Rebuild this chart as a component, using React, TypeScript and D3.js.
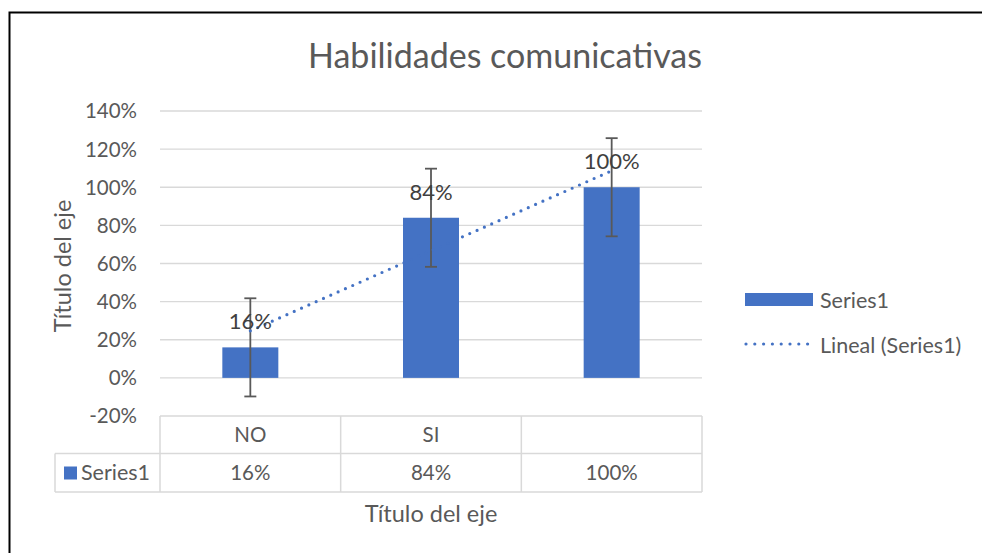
import React, { useEffect, useRef } from "react";
import * as d3 from "d3";

const title = "Habilidades comunicativas";
const categories = ["NO", "SI", ""];
const values = [0.16, 0.84, 1.0];
const seriesName = "Series1";
const trendName = "Lineal (Series1)";
const yTicks = [-0.2, 0, 0.2, 0.4, 0.6, 0.8, 1.0, 1.2, 1.4];
const axisTitle = "Título del eje";

const BLUE = "#4472C4";
const TEXT = "#595959";
const GRID = "#d9d9d9";
const FONT = "Lato, 'Noto Sans', sans-serif";

export default function App() {
    const ref = useRef<SVGSVGElement>(null);

    useEffect(() => {
        if (!ref.current) return;
        const svg = d3.select(ref.current);
        svg.selectAll("*").remove();

        const left = 160, right = 702, top = 111, bottom = 416;

        const x = d3.scaleBand<number>()
            .domain(categories.map((_, i) => i))
            .range([left, right]);

        const y = d3.scaleLinear()
            .domain([yTicks[0], yTicks[yTicks.length - 1]])
            .range([bottom, top]);

        // Excel shows a plain hyphen for negatives
        const fmt = (v: number) => d3.format(".0%")(v).replace("\u2212", "-");

        // chart frame
        svg.append("rect")
            .attr("x", 9.5).attr("y", 12.5)
            .attr("width", 1000).attr("height", 600)
            .attr("fill", "white").attr("stroke", "black").attr("stroke-width", 2);

        // title
        svg.append("text")
            .attr("x", 505).attr("y", 68)
            .attr("text-anchor", "middle")
            .attr("font-family", FONT).attr("font-size", 34)
            .attr("fill", TEXT)
            .text(title);

        // gridlines + tick labels
        yTicks.forEach((t) => {
            if (t > yTicks[0]) {
                svg.append("line")
                    .attr("x1", left).attr("x2", right)
                    .attr("y1", y(t)).attr("y2", y(t))
                    .attr("stroke", GRID).attr("stroke-width", 1.3);
            }
            svg.append("text")
                .attr("x", 137).attr("y", y(t))
                .attr("dy", "0.36em")
                .attr("text-anchor", "end")
                .attr("font-family", FONT).attr("font-size", 20.5)
                .attr("fill", TEXT)
                .text(fmt(t));
        });

        // y axis title
        svg.append("text")
            .attr("transform", `translate(71, 266) rotate(-90)`)
            .attr("text-anchor", "middle")
            .attr("font-family", FONT).attr("font-size", 23.5)
            .attr("fill", TEXT)
            .text(axisTitle);

        // bars
        const barW = 56;
        const cx = (i: number) => (x(i) as number) + x.bandwidth() / 2;
        values.forEach((v, i) => {
            svg.append("rect")
                .attr("x", cx(i) - barW / 2)
                .attr("y", y(v))
                .attr("width", barW)
                .attr("height", y(0) - y(v))
                .attr("fill", BLUE);
        });

        // error bars: standard error of the series
        const n = values.length;
        const se = (d3.deviation(values) || 0) / Math.sqrt(n);
        values.forEach((v, i) => {
            const g = svg.append("g").attr("stroke", "#595959").attr("stroke-width", 1.8);
            g.append("line").attr("x1", cx(i)).attr("x2", cx(i)).attr("y1", y(v - se)).attr("y2", y(v + se));
            [v - se, v + se].forEach((e) => {
                g.append("line").attr("x1", cx(i) - 6).attr("x2", cx(i) + 6).attr("y1", y(e)).attr("y2", y(e));
            });
        });

        // linear trendline (least squares over category index)
        const xs = values.map((_, i) => i + 1);
        const mx = d3.mean(xs) || 0;
        const my = d3.mean(values) || 0;
        const slope = d3.sum(xs, (xi, i) => (xi - mx) * (values[i] - my)) / d3.sum(xs, (xi) => (xi - mx) ** 2);
        const icpt = my - slope * mx;
        const trend = xs.map((xi, i) => [cx(i), y(icpt + slope * xi)] as [number, number]);
        svg.append("path")
            .attr("d", d3.line()(trend))
            .attr("fill", "none")
            .attr("stroke", BLUE)
            .attr("stroke-width", 3.2)
            .attr("stroke-linecap", "round")
            .attr("stroke-dasharray", "0 8");

        // data labels
        values.forEach((v, i) => {
            svg.append("text")
                .attr("x", cx(i)).attr("y", y(v) - 18)
                .attr("text-anchor", "middle")
                .attr("font-family", FONT).attr("font-size", 22)
                .attr("fill", "#404040")
                .text(fmt(v));
        });

        // data table
        const rowTop = 416, rowMid = 453.5, rowBot = 492, tableLeft = 55;
        const tb = svg.append("g").attr("stroke", GRID).attr("stroke-width", 1.5).attr("fill", "none");
        tb.append("line").attr("x1", left).attr("x2", right).attr("y1", rowTop).attr("y2", rowTop);
        tb.append("line").attr("x1", tableLeft).attr("x2", right).attr("y1", rowMid).attr("y2", rowMid);
        tb.append("line").attr("x1", tableLeft).attr("x2", right).attr("y1", rowBot).attr("y2", rowBot);
        tb.append("line").attr("x1", tableLeft).attr("x2", tableLeft).attr("y1", rowMid).attr("y2", rowBot);
        categories.forEach((_, i) => {
            tb.append("line").attr("x1", x(i) as number).attr("x2", x(i) as number).attr("y1", rowTop).attr("y2", rowBot);
        });
        tb.append("line").attr("x1", right).attr("x2", right).attr("y1", rowTop).attr("y2", rowBot);

        categories.forEach((c, i) => {
            svg.append("text")
                .attr("x", cx(i)).attr("y", (rowTop + rowMid) / 2)
                .attr("dy", "0.36em").attr("text-anchor", "middle")
                .attr("font-family", FONT).attr("font-size", 20.5).attr("fill", TEXT)
                .text(c);
            svg.append("text")
                .attr("x", cx(i)).attr("y", (rowMid + rowBot) / 2)
                .attr("dy", "0.36em").attr("text-anchor", "middle")
                .attr("font-family", FONT).attr("font-size", 20.5).attr("fill", TEXT)
                .text(fmt(values[i]));
        });
        svg.append("rect")
            .attr("x", 64).attr("y", 466.5).attr("width", 13).attr("height", 13)
            .attr("fill", BLUE);
        svg.append("text")
            .attr("x", 81).attr("y", (rowMid + rowBot) / 2)
            .attr("dy", "0.36em")
            .attr("font-family", FONT).attr("font-size", 21.5).attr("fill", TEXT)
            .text(seriesName);

        // x axis title
        svg.append("text")
            .attr("x", 431).attr("y", 522)
            .attr("text-anchor", "middle")
            .attr("font-family", FONT).attr("font-size", 23.5)
            .attr("fill", TEXT)
            .text(axisTitle);

        // legend
        svg.append("rect")
            .attr("x", 745).attr("y", 293).attr("width", 68).attr("height", 13)
            .attr("fill", BLUE);
        svg.append("text")
            .attr("x", 820).attr("y", 300).attr("dy", "0.36em")
            .attr("font-family", FONT).attr("font-size", 21.5).attr("fill", TEXT)
            .text(seriesName);
        svg.append("line")
            .attr("x1", 746).attr("x2", 808).attr("y1", 344).attr("y2", 344)
            .attr("stroke", BLUE).attr("stroke-width", 3.2)
            .attr("stroke-linecap", "round").attr("stroke-dasharray", "0 8.8");
        svg.append("text")
            .attr("x", 820).attr("y", 345).attr("dy", "0.36em")
            .attr("font-family", FONT).attr("font-size", 21.5).attr("fill", TEXT)
            .text(trendName);
    }, []);

    return (
        <svg
            ref={ref}
            width={982}
            height={553}
            style={{ position: "absolute", left: 0, top: 0, background: "white" }}
        />
    );
}
